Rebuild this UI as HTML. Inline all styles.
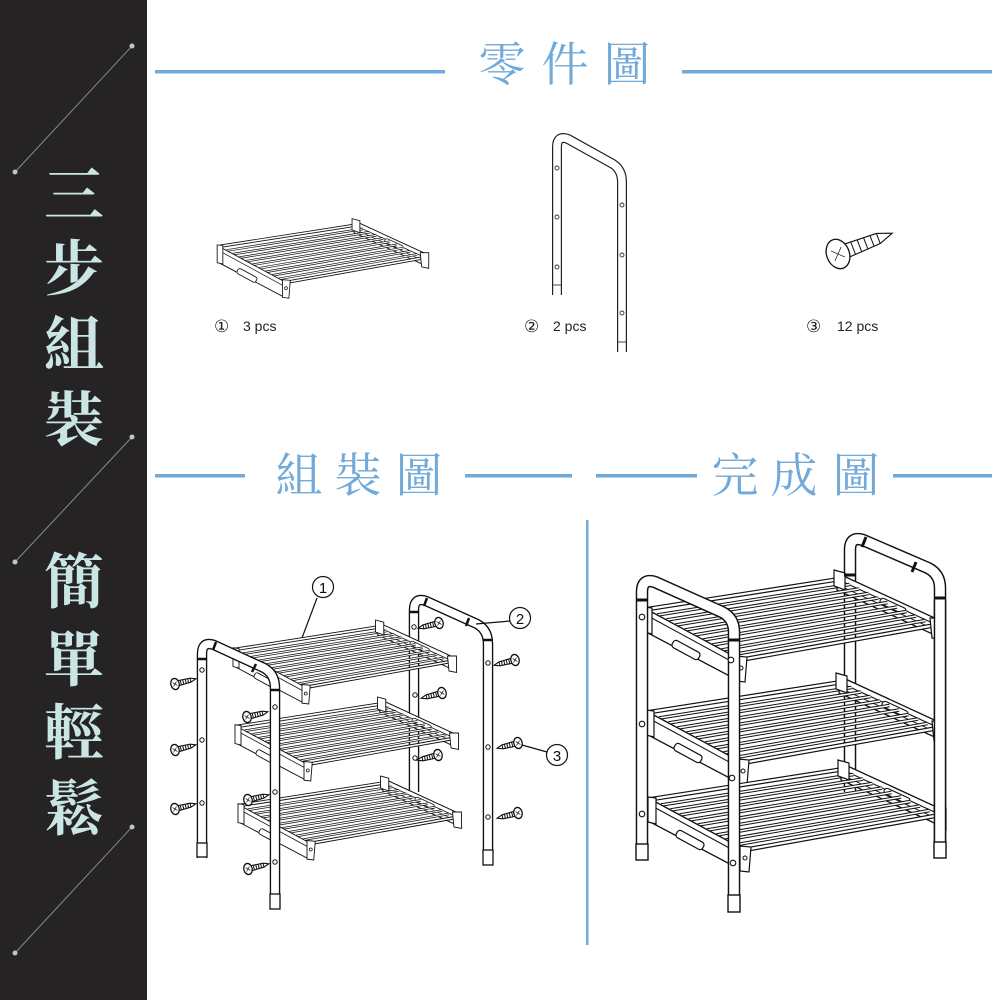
<!DOCTYPE html>
<html><head><meta charset="utf-8">
<style>
html,body{margin:0;padding:0;background:#fff;}
body{width:1000px;height:1000px;overflow:hidden;}
svg{display:block;}
.cj{font-family:"Liberation Serif","Noto Serif CJK SC","Noto Serif CJK JP",serif;}
.sn{font-family:"Liberation Sans","DejaVu Sans","Noto Sans CJK SC",sans-serif;}
</style></head>
<body>
<svg width="1000" height="1000" viewBox="0 0 1000 1000" xmlns="http://www.w3.org/2000/svg">
<defs>
  <g id="shelf">
    <!-- right panel (inner face with lip) -->
    <polygon points="189,-37 291,10 291,27 189,-20" fill="#fff" stroke="#111" stroke-width="1.3"/>
    <line x1="191" y1="-30" x2="289" y2="15" stroke="#111" stroke-width="1.1"/>
    <line x1="190" y1="-25" x2="290" y2="21" stroke="#111" stroke-width="0.9"/>
    <rect x="-14" y="-3" width="28" height="6" rx="3" transform="translate(245,-4) rotate(24.8)" fill="#fff" stroke="#111" stroke-width="1.1"/>
    <!-- wires -->
    <path d="M9.2,5L201.5,-25.5M18.4,10L211,-21M27.6,15L220.5,-16.5M36.8,20L230,-12M46,25L239.5,-7.5M55.2,30L249,-3M64.4,35L258.5,1.5M73.6,40L268,6M82.8,45L277.5,10.5" stroke="#111" stroke-width="3.5" fill="none"/>
    <path d="M9.2,5L201.5,-25.5M18.4,10L211,-21M27.6,15L220.5,-16.5M36.8,20L230,-12M46,25L239.5,-7.5M55.2,30L249,-3M64.4,35L258.5,1.5M73.6,40L268,6M82.8,45L277.5,10.5" stroke="#fff" stroke-width="1.5" fill="none"/>
    <!-- back rail -->
    <line x1="0" y1="-1" x2="192" y2="-31" stroke="#111" stroke-width="4.6"/>
    <line x1="0" y1="-1" x2="192" y2="-31" stroke="#fff" stroke-width="2.2"/>
    <!-- front rail -->
    <line x1="92" y1="50" x2="288" y2="15" stroke="#111" stroke-width="4.6"/>
    <line x1="92" y1="50" x2="288" y2="15" stroke="#fff" stroke-width="2.2"/>
    <!-- right corner blocks -->
    <polygon points="186,-40 197,-37 197,-20 186,-24" fill="#fff" stroke="#111" stroke-width="1.2"/>
    <polygon points="282,8 294,8 294,30 284,28" fill="#fff" stroke="#111" stroke-width="1.2"/>
    <!-- left panel (outer face) -->
    <polygon points="0,0 93,50 91,71 0,23" fill="#fff" stroke="#111" stroke-width="1.3"/>
    <line x1="0" y1="6" x2="92" y2="56" stroke="#111" stroke-width="1"/>
    <rect x="-15" y="-4" width="30" height="8" rx="3" transform="translate(38,40) rotate(28.5)" fill="#fff" stroke="#111" stroke-width="1.2"/>
    <polygon points="-4,-3 4,-2 4,24 -4,22" fill="#fff" stroke="#111" stroke-width="1.2"/>
    <polygon points="88,46 99,47 97,72 88,71" fill="#fff" stroke="#111" stroke-width="1.2"/>
    <circle cx="93" cy="58" r="2" fill="none" stroke="#111" stroke-width="1"/>
  </g>
  <g id="scr">
    <path d="M3,-2.6 L16,-2 L21.5,0 L16,2 L3,2.6 Z" fill="#fff" stroke="#111" stroke-width="1.1" vector-effect="non-scaling-stroke"/>
    <path d="M6,-2.6v5.2M8.5,-2.5v5M11,-2.4v4.8M13.5,-2.2v4.4M16,-2v4" stroke="#111" stroke-width="1" vector-effect="non-scaling-stroke"/>
    <ellipse cx="0" cy="0" rx="4.2" ry="5.6" fill="#fff" stroke="#111" stroke-width="1.3" vector-effect="non-scaling-stroke"/>
    <path d="M-2,-2L2,2M-2,2L2,-2" stroke="#111" stroke-width="0.7" vector-effect="non-scaling-stroke"/>
  </g>
</defs>

<!-- LEFT DARK PANEL -->
<rect x="0" y="0" width="147" height="1000" fill="#262324"/>
<g stroke="#8a8a8a" stroke-width="1">
  <line x1="132" y1="46" x2="15" y2="172"/>
  <line x1="132" y1="437" x2="15" y2="562"/>
  <line x1="132" y1="827" x2="15" y2="953"/>
</g>
<g fill="#c4c4c4">
  <circle cx="132" cy="46" r="2.5"/><circle cx="15" cy="172" r="2.5"/>
  <circle cx="132" cy="437" r="2.5"/><circle cx="15" cy="562" r="2.5"/>
  <circle cx="132" cy="827" r="2.5"/><circle cx="15" cy="953" r="2.5"/>
</g>
<g class="cj" font-size="60" font-weight="700" fill="#c9e5e4" text-anchor="middle">
  <text x="74" y="217">三</text>
  <text x="74" y="290">步</text>
  <text x="74" y="366">組</text>
  <text x="74" y="441">裝</text>
  <text x="74" y="603">簡</text>
  <text x="74" y="681">單</text>
  <text x="74" y="754">輕</text>
  <text x="74" y="830">鬆</text>
</g>

<!-- HEADERS -->
<g fill="#71aad9">
  <rect x="155" y="70" width="290" height="3.5"/>
  <rect x="682" y="70" width="310" height="3.5"/>
  <rect x="155" y="474" width="90" height="3.5"/>
  <rect x="465" y="474" width="107" height="3.5"/>
  <rect x="596" y="474" width="101" height="3.5"/>
  <rect x="893" y="474" width="99" height="3.5"/>
  <rect x="586" y="520" width="2.5" height="425"/>
</g>
<g class="cj" font-size="47" fill="#71aad9" text-anchor="middle">
  <text x="502" y="81">零</text>
  <text x="565" y="81">件</text>
  <text x="627" y="81">圖</text>
  <text x="299" y="492">組</text>
  <text x="358" y="492">裝</text>
  <text x="419" y="492">圖</text>
  <text x="735" y="492">完</text>
  <text x="794" y="492">成</text>
  <text x="856" y="492">圖</text>
</g>

<!-- PARTS -->
<use href="#shelf" transform="translate(220,247) scale(0.71)"/>
<!-- part 2 frame -->
<path d="M557,295 L557,147 Q557,135 568,139 L613,164 Q622,170 622,182 L622,352" fill="none" stroke="#222" stroke-width="10"/>
<path d="M557,295 L557,147 Q557,135 568,139 L613,164 Q622,170 622,182 L622,352" fill="none" stroke="#fff" stroke-width="7.6"/>
<g fill="none" stroke="#333" stroke-width="0.9">
  <circle cx="557" cy="168" r="2"/><circle cx="557" cy="217" r="2"/><circle cx="557" cy="267" r="2"/>
  <circle cx="622" cy="205" r="2"/><circle cx="622" cy="255" r="2"/><circle cx="622" cy="313" r="2"/>
  <line x1="552" y1="285" x2="562" y2="285"/><line x1="617" y1="342" x2="627" y2="342"/>
</g>
<!-- part 3 screw -->
<use href="#scr" transform="translate(838,254) rotate(-21) scale(2.7)"/>

<g class="sn" font-size="14" fill="#222">
  <text x="214" y="332" font-size="17">①</text><text x="243" y="331">3 pcs</text>
  <text x="524" y="332" font-size="17">②</text><text x="553" y="331">2 pcs</text>
  <text x="806" y="332" font-size="17">③</text><text x="837" y="331">12 pcs</text>
</g>

<!-- ASSEMBLY VIEW -->
<path d="M414,792 L414,610 Q414,597 426,601 L477,624 Q488,630 488,644 L488,865" fill="none" stroke="#111" stroke-width="10.5"/>
<path d="M414,792 L414,610 Q414,597 426,601 L477,624 Q488,630 488,644 L488,865" fill="none" stroke="#fff" stroke-width="7.8"/>
<rect x="483" y="850" width="10" height="15" fill="#fff" stroke="#111" stroke-width="1.3"/>
<g stroke="#111" stroke-width="2.5">
  <line x1="409" y1="612" x2="419" y2="612"/><line x1="427" y1="598" x2="424" y2="606"/>
  <line x1="469" y1="618" x2="466" y2="626"/><line x1="483" y1="640" x2="493" y2="640"/>
</g>
<g fill="#fff" stroke="#111" stroke-width="1">
  <circle cx="414" cy="627" r="2.2"/><circle cx="415" cy="695" r="2.2"/><circle cx="415" cy="758" r="2.2"/>
  <circle cx="488" cy="663" r="2.2"/><circle cx="488" cy="747" r="2.2"/><circle cx="488" cy="817" r="2.2"/>
</g>
<use href="#shelf" transform="translate(236,650) scale(0.75)"/>
<use href="#shelf" transform="translate(238,727) scale(0.75)"/>
<use href="#shelf" transform="translate(241,806) scale(0.75)"/>
<path d="M202,858 L202,654 Q202,641 214,645 L264,668 Q275,674 275,688 L275,908" fill="none" stroke="#111" stroke-width="10.5"/>
<path d="M202,858 L202,654 Q202,641 214,645 L264,668 Q275,674 275,688 L275,908" fill="none" stroke="#fff" stroke-width="7.8"/>
<rect x="197" y="843" width="10" height="14" fill="#fff" stroke="#111" stroke-width="1.3"/>
<rect x="270" y="894" width="10" height="15" fill="#fff" stroke="#111" stroke-width="1.3"/>
<g stroke="#111" stroke-width="2.5">
  <line x1="197" y1="659" x2="207" y2="659"/><line x1="216" y1="642" x2="213" y2="650"/>
  <line x1="256" y1="664" x2="252" y2="672"/><line x1="270" y1="690" x2="280" y2="690"/>
</g>
<g fill="#fff" stroke="#111" stroke-width="1">
  <circle cx="202" cy="670" r="2.2"/><circle cx="202" cy="740" r="2.2"/><circle cx="202" cy="803" r="2.2"/>
  <circle cx="275" cy="707" r="2.2"/><circle cx="275" cy="792" r="2.2"/><circle cx="275" cy="862" r="2.2"/>
</g>
<use href="#scr" transform="translate(175,684) rotate(-14)"/>
<use href="#scr" transform="translate(175,750) rotate(-14)"/>
<use href="#scr" transform="translate(175,809) rotate(-14)"/>
<use href="#scr" transform="translate(247,717) rotate(-14)"/>
<use href="#scr" transform="translate(248,800) rotate(-14)"/>
<use href="#scr" transform="translate(248,869) rotate(-14)"/>
<use href="#scr" transform="translate(439,623) rotate(166)"/>
<use href="#scr" transform="translate(442,693) rotate(166)"/>
<use href="#scr" transform="translate(438,755) rotate(166)"/>
<use href="#scr" transform="translate(515,660) rotate(166)"/>
<use href="#scr" transform="translate(518,743) rotate(166)"/>
<use href="#scr" transform="translate(518,813) rotate(166)"/>
<g stroke="#111" stroke-width="1.2" fill="none">
  <line x1="317" y1="598" x2="302" y2="638"/>
  <line x1="510" y1="621" x2="476" y2="624"/>
  <line x1="547" y1="752" x2="522" y2="745"/>
  <circle cx="323" cy="587" r="10.5" fill="#fff"/>
  <circle cx="520" cy="618" r="10.5" fill="#fff"/>
  <circle cx="557" cy="755" r="10.5" fill="#fff"/>
</g>
<g class="sn" font-size="15" fill="#111" text-anchor="middle">
  <text x="323" y="593">1</text>
  <text x="520" y="624">2</text>
  <text x="557" y="761">3</text>
</g>

<!-- COMPLETE VIEW -->
<path d="M850,792 L850,550 Q850,536 863,540 L928,568 Q940,574 940,588 L940,858" fill="none" stroke="#111" stroke-width="12.5"/>
<path d="M850,792 L850,550 Q850,536 863,540 L928,568 Q940,574 940,588 L940,858" fill="none" stroke="#fff" stroke-width="9.6"/>
<use href="#shelf" transform="translate(648,610)"/>
<use href="#shelf" transform="translate(650,713)"/>
<use href="#shelf" transform="translate(652,800)"/>
<path d="M940,600 L940,858" fill="none" stroke="#111" stroke-width="12.5"/>
<path d="M940,599 L940,858" fill="none" stroke="#fff" stroke-width="9.6"/>
<rect x="934" y="842" width="12" height="16" fill="#fff" stroke="#111" stroke-width="1.4"/>
<g stroke="#111" stroke-width="3">
  <line x1="844" y1="575" x2="856" y2="575"/><line x1="866" y1="537" x2="862" y2="547"/>
  <line x1="916" y1="562" x2="912" y2="572"/><line x1="934" y1="598" x2="946" y2="598"/>
</g>
<path d="M642,860 L642,592 Q642,578 655,582 L722,612 Q734,618 734,632 L734,912" fill="none" stroke="#111" stroke-width="12.5"/>
<path d="M642,860 L642,592 Q642,578 655,582 L722,612 Q734,618 734,632 L734,912" fill="none" stroke="#fff" stroke-width="9.6"/>
<rect x="636" y="844" width="12" height="16" fill="#fff" stroke="#111" stroke-width="1.4"/>
<rect x="728" y="895" width="12" height="17" fill="#fff" stroke="#111" stroke-width="1.4"/>
<g stroke="#111" stroke-width="3">
  <line x1="636" y1="600" x2="648" y2="600"/><line x1="728" y1="640" x2="740" y2="640"/>
</g>
<g fill="#fff" stroke="#111" stroke-width="1.1">
  <circle cx="642" cy="617" r="2.8"/><circle cx="642" cy="724" r="2.8"/><circle cx="642" cy="814" r="2.8"/>
  <circle cx="731" cy="660" r="2.8"/><circle cx="732" cy="778" r="2.8"/><circle cx="733" cy="863" r="2.8"/>
</g>
</svg>
</body></html>
